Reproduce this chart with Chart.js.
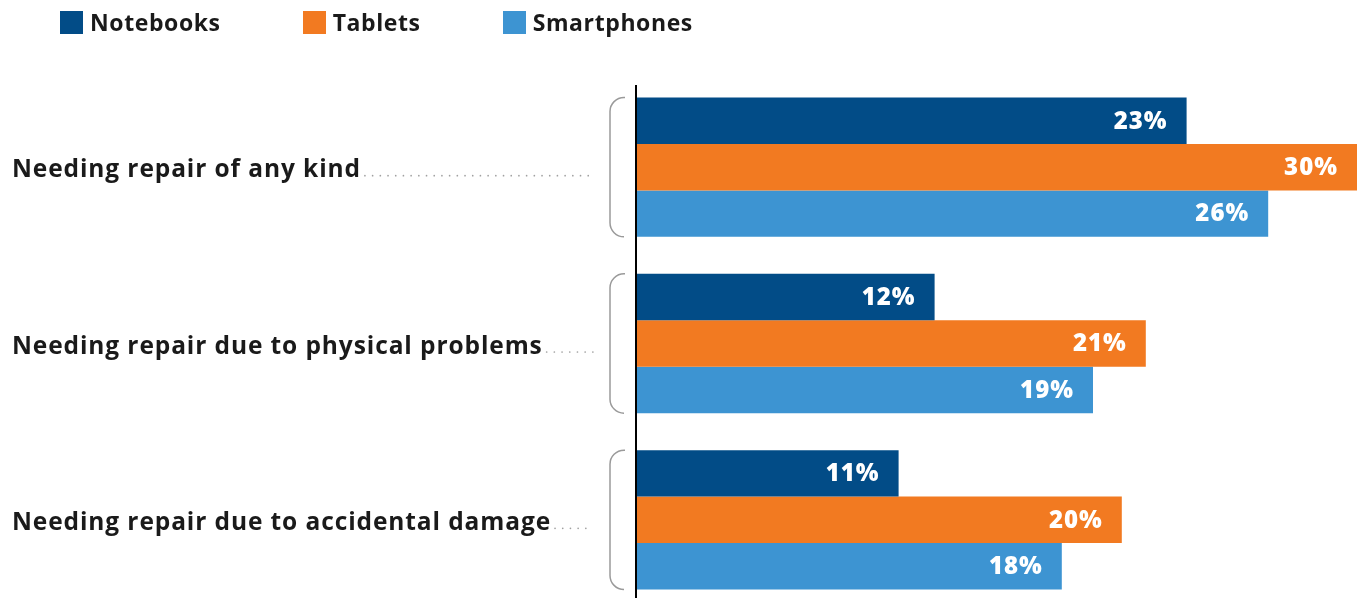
<!DOCTYPE html>
<html>
<head>
<meta charset="utf-8">
<script src="https://cdn.jsdelivr.net/npm/chart.js@4.4.1/dist/chart.umd.min.js"></script>
<style>
  html, body { margin: 0; padding: 0; background: #fff; overflow: hidden; }
  body { width: 1357px; height: 598px; position: relative; font-family: "Open Sans", sans-serif; }
  #legend { position: absolute; left: 60px; top: 6px; display: flex; gap: 82px; z-index: 2; }
  .item { display: flex; align-items: center; font-weight: 700; font-size: 23px; letter-spacing: 0.6px; color: #1a1a1a; }
  .swatch { width: 23px; height: 23px; margin-right: 7px; }
  #wrap { position: absolute; left: 0; top: 0; width: 1357px; height: 608px; }
</style>
</head>
<body>
<div id="legend"></div>
<div id="wrap"><canvas id="chart"></canvas></div>
<script>
const categories = [
  "Needing repair of any kind",
  "Needing repair due to physical problems",
  "Needing repair due to accidental damage"
];
const seriesNames = ["Notebooks", "Tablets", "Smartphones"];
const notebooks = [22.9, 12.4, 10.9];
const tablets = [30.0, 21.2, 20.2];
const smartphones = [26.3, 19.0, 17.7];
const colors = ["#024c87", "#f27a21", "#3d94d2"];

// legend (html)
const legend = document.getElementById("legend");
seriesNames.forEach((name, i) => {
  const it = document.createElement("div");
  it.className = "item";
  it.innerHTML = `<span class="swatch" style="background:${colors[i]}"></span>${name}`;
  legend.appendChild(it);
});

const FONT = '"Open Sans", sans-serif';

// left labels, dotted leaders, brackets, axis line, value labels
const decor = {
  id: "decor",
  afterDatasetsDraw(chart) {
    const ctx = chart.ctx;
    const y = chart.scales.y;
    const area = chart.chartArea;
    ctx.save();

    // vertical axis line
    ctx.strokeStyle = "#000";
    ctx.lineWidth = 2;
    ctx.beginPath();
    ctx.moveTo(area.left - 1, 85);
    ctx.lineTo(area.left - 1, chart.height);
    ctx.stroke();

    categories.forEach((cat, i) => {
      const cy = y.getPixelForValue(i);
      const base = cy + 10;
      ctx.font = `700 24.5px ${FONT}`;
      ctx.letterSpacing = "0.9px";
      ctx.fillStyle = "#1a1a1a";
      ctx.textAlign = "left";
      ctx.textBaseline = "alphabetic";
      ctx.fillText(cat, 12, base);
      const w = ctx.measureText(cat).width;
      ctx.letterSpacing = "0px";

      // dots
      ctx.fillStyle = "#a0a0a0";
      for (let x = 12 + w + 4; x <= 593; x += 7.7) {
        ctx.beginPath();
        ctx.arc(x, base - 1.5, 0.85, 0, Math.PI * 2);
        ctx.fill();
      }

      // bracket
      const meta0 = chart.getDatasetMeta(0).data[i];
      const meta2 = chart.getDatasetMeta(2).data[i];
      const top = meta0.y - meta0.height / 2;
      const bot = meta2.y + meta2.height / 2;
      const l = 610, r = 625, rad = 14;
      ctx.strokeStyle = "#9a9a9a";
      ctx.lineWidth = 1.5;
      ctx.beginPath();
      ctx.moveTo(r, top);
      ctx.arcTo(l, top, l, top + rad, rad);
      ctx.lineTo(l, bot - rad);
      ctx.arcTo(l, bot, r, bot, rad);
      ctx.stroke();
    });

    // value labels
    ctx.font = `800 24px ${FONT}`;
    ctx.letterSpacing = "1px";
    ctx.fillStyle = "#fff";
    ctx.textAlign = "right";
    ctx.textBaseline = "middle";
    chart.data.datasets.forEach((ds, di) => {
      chart.getDatasetMeta(di).data.forEach((el, i) => {
        ctx.fillText(Math.round(ds.data[i]) + "%", el.x - 19, el.y + 1);
      });
    });
    ctx.restore();
  }
};

new Chart(document.getElementById("chart"), {
  type: "bar",
  data: {
    labels: categories,
    datasets: [
      { label: seriesNames[0], data: notebooks, backgroundColor: colors[0] },
      { label: seriesNames[1], data: tablets, backgroundColor: colors[1] },
      { label: seriesNames[2], data: smartphones, backgroundColor: colors[2] }
    ]
  },
  options: {
    indexAxis: "y",
    responsive: true,
    maintainAspectRatio: false,
    animation: false,
    datasets: { bar: { categoryPercentage: 0.79, barPercentage: 1.0, borderWidth: 0 } },
    layout: { padding: { left: 637, top: 79, right: 0, bottom: 0 } },
    plugins: { legend: { display: false }, tooltip: { enabled: false } },
    scales: {
      x: { display: false, min: 0, max: 30 },
      y: { display: false }
    }
  },
  plugins: [decor]
});
</script>
</body>
</html>
